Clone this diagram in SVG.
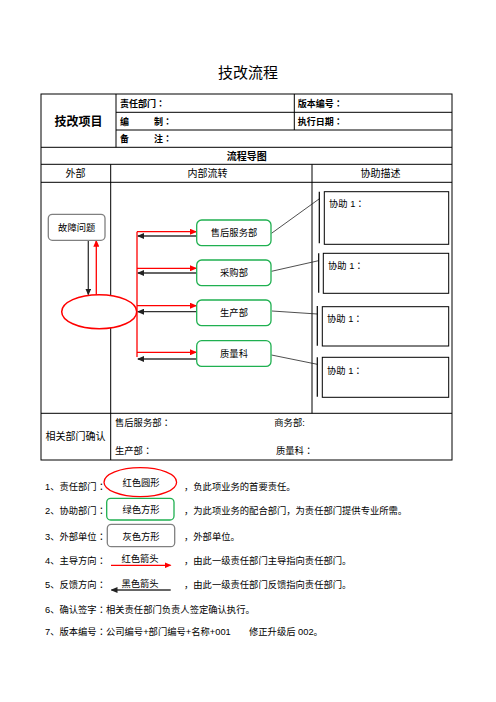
<svg xmlns="http://www.w3.org/2000/svg" width="496" height="702" viewBox="0 0 496 702">
<style>
text{font-family:"Liberation Sans","Noto Sans CJK SC",sans-serif;fill:#000}
.c{font-family:"Noto Sans CJK TC",sans-serif}
.t9{font-size:9.3px}
.b9{font-size:9px;font-weight:bold}
.tl{stroke:#000;stroke-width:1;fill:none}
.green{fill:#fff;stroke:#1fb050;stroke-width:1.3}
.gray{fill:#fff;stroke:#808080;stroke-width:1.3}
.red{stroke:#ff0000;stroke-width:1.3;fill:none}
.blk{stroke:#333;stroke-width:1.3;fill:none}
.thin{stroke:#222;stroke-width:0.8;fill:none}
.desc{fill:#fff;stroke:#000;stroke-width:1}
.brk{stroke:#000;stroke-width:1.2}
</style>
<defs>
<marker id="ar" markerUnits="userSpaceOnUse" markerWidth="7" markerHeight="6" refX="6" refY="3" orient="auto"><path d="M0,0 L7,3 L0,6 z" fill="#ff0000"/></marker>
<marker id="ab" markerUnits="userSpaceOnUse" markerWidth="7" markerHeight="6" refX="6" refY="3" orient="auto"><path d="M0,0 L7,3 L0,6 z" fill="#222"/></marker>
</defs>
<rect width="496" height="702" fill="#fff"/>
<text x="248" y="78" font-size="15" text-anchor="middle">技改流程</text>
<g id="table">
<rect class="tl" x="41" y="94" width="411" height="366"/>
<path class="tl" d="M116 112.3H452M116 130H452M41 147.3H452M41 164.3H452M41 182.3H452M41 413.3H452M116 94V147.3M294.3 94V130M110.7 164.3V460M312 164.3V413.3"/>
<text x="78.5" y="126" font-size="12" font-weight="bold" text-anchor="middle">技改项目</text>
<text class="b9" x="120" y="107">责任部门<tspan class="c">：</tspan></text>
<text class="b9" x="297.7" y="107">版本编号<tspan class="c">：</tspan></text>
<text class="b9" x="120" y="125">编</text><text class="b9" x="154" y="125">制<tspan class="c">：</tspan></text>
<text class="b9" x="297.7" y="125">执行日期<tspan class="c">：</tspan></text>
<text class="b9" x="120" y="142">备</text><text class="b9" x="154" y="142">注<tspan class="c">：</tspan></text>
<text x="246.7" y="160" font-size="10" font-weight="bold" text-anchor="middle">流程导图</text>
<text x="75.5" y="177" font-size="10" text-anchor="middle">外部</text>
<text x="207.5" y="177" font-size="10" text-anchor="middle">内部流转</text>
<text x="380.5" y="177" font-size="10" text-anchor="middle">协助描述</text>
<text x="75.5" y="440" font-size="10" text-anchor="middle">相关部门确认</text>
<text class="t9" x="115" y="426">售后服务部<tspan class="c">：</tspan></text>
<text class="t9" x="274.3" y="426">商务部:</text>
<text class="t9" x="115" y="454">生产部<tspan class="c">：</tspan></text>
<text class="t9" x="276" y="454">质量科<tspan class="c">：</tspan></text>
</g>
<g id="connectors">
<path class="red" d="M137 231.7V357"/>
<path class="red" d="M137 231.7H196" marker-end="url(#ar)"/>
<path class="red" d="M137 268.3H196" marker-end="url(#ar)"/>
<path class="red" d="M137 305.7H196" marker-end="url(#ar)"/>
<path class="red" d="M137 352.3H196" marker-end="url(#ar)"/>
<path class="blk" d="M196.7 236H138" marker-end="url(#ab)"/>
<path class="blk" d="M196.7 273H138" marker-end="url(#ab)"/>
<path class="blk" d="M196.7 311.7H138" marker-end="url(#ab)"/>
<path class="blk" d="M196.7 359H138" marker-end="url(#ab)" stroke="#666"/>
<path class="blk" d="M88.3 240.3V294.5" marker-end="url(#ab)"/>
<path class="red" d="M96.3 294.7V240.8" marker-end="url(#ar)"/>
<path class="thin" d="M271.5 233.3L320 198.3M271.5 271.3L318.5 260.7M272 311L317.3 314M271.5 355L317.3 364.3"/>
<path class="brk" d="M319.3 191.7V243.3M318.7 253.3V292.7M317.3 306V345.7M317.3 357.3V396.7"/>
</g>
<g id="fault"><rect class="gray" x="48.3" y="214.3" width="56.7" height="26" rx="4"/><text class="t9" x="76.7" y="230.5" text-anchor="middle">故障问题</text></g>
<g id="responsible"><ellipse cx="99.2" cy="311.7" rx="37.5" ry="17" fill="#fff" stroke="#ff0000" stroke-width="1.5"/></g>
<g id="aftersales"><rect class="green" x="196.7" y="220" width="74.3" height="25.7" rx="5"/><text class="t9" x="234" y="236.3" text-anchor="middle">售后服务部</text></g>
<g id="purchase"><rect class="green" x="196.7" y="260" width="74.3" height="25.7" rx="5"/><text class="t9" x="234" y="276.3" text-anchor="middle">采购部</text></g>
<g id="production"><rect class="green" x="196.7" y="300" width="74.3" height="25.7" rx="5"/><text class="t9" x="234" y="316.3" text-anchor="middle">生产部</text></g>
<g id="quality"><rect class="green" x="196.7" y="340.7" width="74.3" height="25.7" rx="5"/><text class="t9" x="234" y="357" text-anchor="middle">质量科</text></g>
<g id="assist1"><rect class="desc" x="324.3" y="191.7" width="124.4" height="52.6"/><text class="t9" x="329" y="207">协助 1<tspan class="c">：</tspan></text></g>
<g id="assist2"><rect class="desc" x="323.3" y="253.3" width="125.4" height="40"/><text class="t9" x="328" y="269">协助 1<tspan class="c">：</tspan></text></g>
<g id="assist3"><rect class="desc" x="322.3" y="306.7" width="126.4" height="39.3"/><text class="t9" x="327" y="322">协助 1<tspan class="c">：</tspan></text></g>
<g id="assist4"><rect class="desc" x="322.3" y="357.3" width="126.4" height="40"/><text class="t9" x="327" y="373.5">协助 1<tspan class="c">：</tspan></text></g>
<g id="legend">
<text class="t9" x="45" y="490">1、责任部门<tspan class="c">：</tspan></text>
<ellipse cx="140.3" cy="482.2" rx="36.3" ry="14.5" fill="none" stroke="#ff0000" stroke-width="1.3"/>
<text class="t9" x="141" y="485.5" text-anchor="middle">红色圆形</text>
<text class="t9" x="184" y="490">，负此项业务的首要责任。</text>
<text class="t9" x="45" y="514">2、协助部门<tspan class="c">：</tspan></text>
<rect class="green" x="106.7" y="498.3" width="67.3" height="21.7" rx="4"/>
<text class="t9" x="141" y="513" text-anchor="middle">绿色方形</text>
<text class="t9" x="184" y="514">，为此项业务的配合部门，为责任部门提供专业所需。</text>
<text class="t9" x="45" y="539.5">3、外部单位<tspan class="c">：</tspan></text>
<rect class="gray" x="107.3" y="524.3" width="67.4" height="22.4" rx="4"/>
<text class="t9" x="141" y="539.5" text-anchor="middle">灰色方形</text>
<text class="t9" x="184" y="539.5">，外部单位。</text>
<text class="t9" x="45" y="563.5">4、主导方向<tspan class="c">：</tspan></text>
<text class="t9" x="140" y="561.5" text-anchor="middle">红色箭头</text>
<path class="red" d="M111 565.3H170.5" marker-end="url(#ar)"/>
<text class="t9" x="184" y="563.5">，由此一级责任部门主导指向责任部门。</text>
<text class="t9" x="45" y="587.5">5、反馈方向<tspan class="c">：</tspan></text>
<text class="t9" x="140" y="586.5" text-anchor="middle">黑色箭头</text>
<path class="blk" d="M170.7 590H111.5" marker-end="url(#ab)"/>
<text class="t9" x="184" y="587.5">，由此一级责任部门反馈指向责任部门。</text>
<text class="t9" x="45" y="612.5">6、确认签字<tspan class="c">：</tspan>相关责任部门负责人签定确认执行。</text>
<text class="t9" x="45" y="634.5">7、版本编号<tspan class="c">：</tspan>公司编号+部门编号+名称+001</text>
<text class="t9" x="249" y="634.5">修正升级后 002。</text>
</g>
</svg>
